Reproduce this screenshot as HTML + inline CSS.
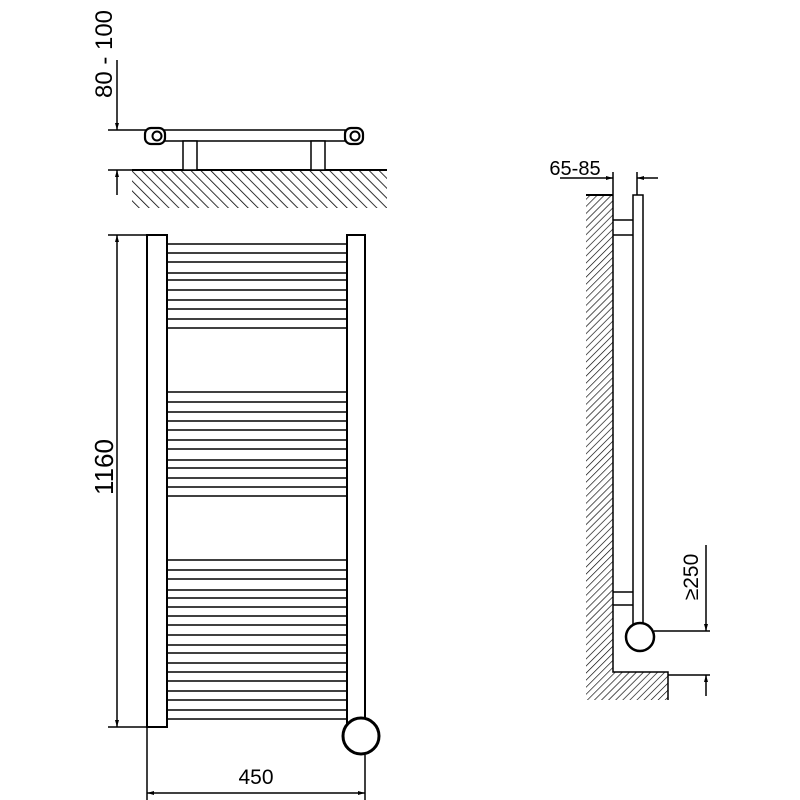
<!DOCTYPE html>
<html><head><meta charset="utf-8"><style>body{margin:0;background:#fff}svg{display:block}</style></head>
<body>
<svg width="800" height="800" viewBox="0 0 800 800" xmlns="http://www.w3.org/2000/svg" font-family="Liberation Sans, sans-serif">
<defs>
<pattern id="h" width="7" height="7" patternUnits="userSpaceOnUse" patternTransform="rotate(-45)">
<line x1="0" y1="0" x2="0" y2="7" stroke="#000" stroke-width="1.6"/>
</pattern>
<pattern id="h2" width="5" height="5" patternUnits="userSpaceOnUse" patternTransform="rotate(45)">
<line x1="0" y1="0" x2="0" y2="5" stroke="#000" stroke-width="1.3"/>
</pattern>
<marker id="a" markerWidth="8" markerHeight="8" refX="7" refY="4" orient="auto" markerUnits="userSpaceOnUse"><path d="M0,2 L7,4 L0,6 z" fill="#000"/></marker>
</defs>
<g stroke="#000" fill="none" stroke-width="1.5">
<rect x="132" y="170" width="255" height="38" fill="url(#h)" stroke="none"/>
<line x1="132" y1="170" x2="387" y2="170" stroke-width="2"/>
<line x1="108" y1="130" x2="150" y2="130"/>
<line x1="108" y1="170" x2="132" y2="170"/>
<line x1="117" y1="60" x2="117" y2="130" marker-end="url(#a)"/>
<line x1="117" y1="195" x2="117" y2="170" marker-end="url(#a)"/>
<rect x="160" y="130" width="185" height="11" fill="#fff"/>
<rect x="183" y="141" width="14" height="29" fill="#fff"/>
<rect x="311" y="141" width="14" height="29" fill="#fff"/>
<rect x="145" y="128" width="20" height="16" rx="6" fill="#fff" stroke-width="2.2"/>
<circle cx="157" cy="136" r="4.5" stroke-width="2"/>
<rect x="345" y="128" width="18" height="16" rx="6" fill="#fff" stroke-width="2.2"/>
<circle cx="355" cy="136" r="4.5" stroke-width="2"/>
<rect x="147" y="235" width="20" height="492" fill="#fff" stroke-width="2"/>
<rect x="347" y="235" width="18" height="492" fill="#fff" stroke-width="2"/>
<g stroke-width="1.6">
<path d="M167 244H347M167 253H347M167 262H347M167 273H347M167 280H347M167 290H347M167 300H347M167 309H347M167 319H347M167 328H347"/>
<path d="M167 392H347M167 402H347M167 412H347M167 421H347M167 430H347M167 440H347M167 449H347M167 460H347M167 468H347M167 478H347M167 487H347M167 496H347"/>
<path d="M167 560H347M167 570H347M167 579H347M167 590H347M167 598H347M167 607H347M167 616H347M167 625H347M167 635H347M167 645H347M167 653H347M167 663H347M167 672H347M167 681H347M167 691H347M167 700H347M167 710H347M167 719H347"/>
</g>
<circle cx="361" cy="736" r="18" fill="#fff" stroke-width="3"/>
<line x1="108" y1="235" x2="147" y2="235"/>
<line x1="108" y1="727" x2="147" y2="727"/>
<line x1="117" y1="480" x2="117" y2="235" marker-end="url(#a)"/>
<line x1="117" y1="480" x2="117" y2="727" marker-end="url(#a)"/>
<line x1="147" y1="727" x2="147" y2="800"/>
<line x1="365" y1="755" x2="365" y2="800"/>
<line x1="256" y1="793" x2="147" y2="793" marker-end="url(#a)"/>
<line x1="256" y1="793" x2="365" y2="793" marker-end="url(#a)"/>
<path d="M586 195H613V672H668V700H586Z" fill="url(#h2)" stroke="none"/>
<line x1="586" y1="195" x2="613" y2="195" stroke-width="2"/>
<path d="M613 172V672H668V700"/>
<line x1="637" y1="172" x2="637" y2="195"/>
<line x1="560" y1="178" x2="613" y2="178" marker-end="url(#a)"/>
<line x1="658" y1="178" x2="637" y2="178" marker-end="url(#a)"/>
<rect x="633" y="195" width="10" height="430" fill="#fff"/>
<path d="M613 220H633M613 235H633M613 592H633M613 605H633"/>
<circle cx="640" cy="637" r="14" fill="#fff" stroke-width="2.5"/>
<line x1="654" y1="631" x2="710" y2="631"/>
<line x1="668" y1="675" x2="710" y2="675"/>
<line x1="706" y1="545" x2="706" y2="631" marker-end="url(#a)"/>
<line x1="706" y1="696" x2="706" y2="675" marker-end="url(#a)"/>
</g>
<g fill="#000">
<text transform="translate(112,54) rotate(-90)" text-anchor="middle" font-size="24">80 - 100</text>
<text transform="translate(113,467) rotate(-90)" text-anchor="middle" font-size="26">1160</text>
<text x="256" y="784" text-anchor="middle" font-size="21">450</text>
<text x="575" y="175" text-anchor="middle" font-size="20">65-85</text>
<text transform="translate(698,577) rotate(-90)" text-anchor="middle" font-size="21">≥250</text>
</g>
</svg>
</body></html>
